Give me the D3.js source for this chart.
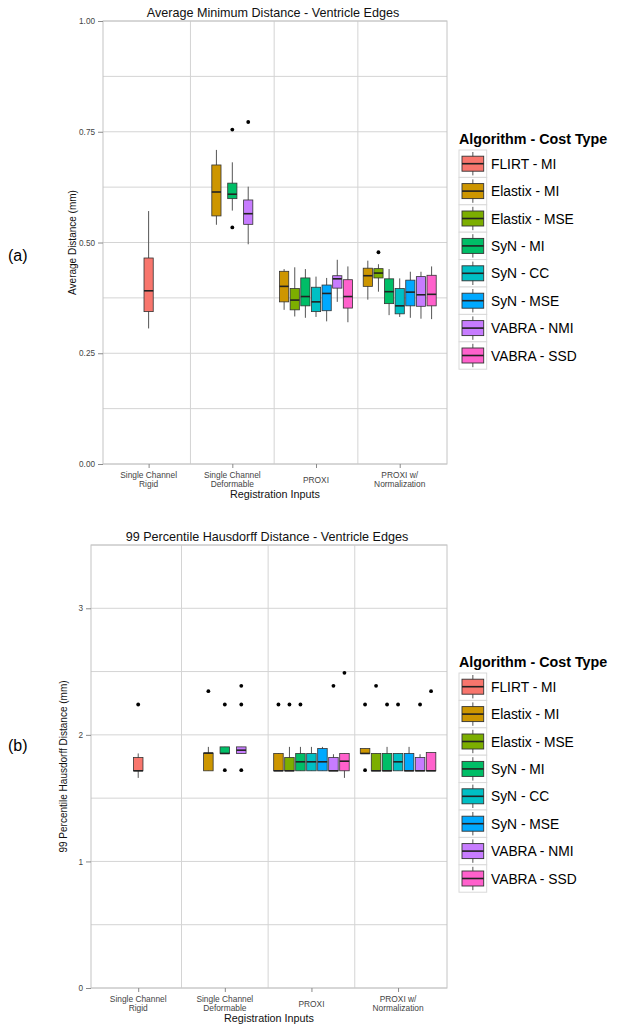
<!DOCTYPE html>
<html>
<head>
<meta charset="utf-8">
<script src="https://cdn.jsdelivr.net/npm/d3@7"></script>
<style>
  body { margin: 0; background: #fff; }
  text { font-family: "Liberation Sans", Arial, sans-serif; }
</style>
</head>
<body>
<svg id="chart" width="623" height="1033"></svg>
<script>
// Categories on the x axis (label lines)
const categories = [
    ["Single Channel", "Rigid"],
    ["Single Channel", "Deformable"],
    ["PROXI"],
    ["PROXI w/", "Normalization"]
];

// Algorithm - cost type groups and their colours
const algorithms = ["FLIRT - MI", "Elastix - MI", "Elastix - MSE", "SyN - MI",
    "SyN - CC", "SyN - MSE", "VABRA - NMI", "VABRA - SSD"];
const algoColors = ["#F8766D", "#CD9600", "#7CAE00", "#00BE67",
    "#00BFC4", "#00A9FF", "#C77CFF", "#FF61CC"];

// Average minimum distance: [category, algorithm, low, q1, median, q3, high]
const avgStats = [
    [0, 0, 0.306, 0.344, 0.391, 0.465, 0.571],
    [1, 1, 0.540, 0.560, 0.614, 0.675, 0.709],
    [1, 3, 0.572, 0.599, 0.609, 0.634, 0.681],
    [1, 6, 0.496, 0.541, 0.565, 0.596, 0.626],
    [2, 1, 0.348, 0.366, 0.401, 0.435, 0.440],
    [2, 2, 0.333, 0.348, 0.370, 0.396, 0.444],
    [2, 3, 0.330, 0.357, 0.378, 0.420, 0.440],
    [2, 4, 0.332, 0.344, 0.366, 0.399, 0.423],
    [2, 5, 0.322, 0.346, 0.385, 0.404, 0.420],
    [2, 6, 0.366, 0.397, 0.418, 0.425, 0.461],
    [2, 7, 0.320, 0.352, 0.378, 0.416, 0.446],
    [3, 1, 0.371, 0.401, 0.425, 0.442, 0.459],
    [3, 2, 0.389, 0.420, 0.431, 0.441, 0.451],
    [3, 3, 0.336, 0.362, 0.389, 0.418, 0.440],
    [3, 4, 0.332, 0.339, 0.357, 0.396, 0.419],
    [3, 5, 0.330, 0.357, 0.388, 0.415, 0.434],
    [3, 6, 0.328, 0.356, 0.382, 0.423, 0.434],
    [3, 7, 0.327, 0.357, 0.383, 0.426, 0.446]
];
// [category, algorithm, value]
const avgOutliers = [
    [1, 3, 0.755], [1, 3, 0.534], [1, 6, 0.772], [3, 2, 0.478]
];

// 99 percentile Hausdorff distance: [category, algorithm, low, q1, median, q3, high]
const hausStats = [
    [0, 0, 1.660, 1.716, 1.716, 1.821, 1.853],
    [1, 1, 1.716, 1.716, 1.856, 1.856, 1.905],
    [1, 3, 1.853, 1.853, 1.853, 1.905, 1.905],
    [1, 6, 1.853, 1.853, 1.879, 1.905, 1.905],
    [2, 1, 1.716, 1.716, 1.716, 1.853, 1.853],
    [2, 2, 1.716, 1.716, 1.716, 1.821, 1.905],
    [2, 3, 1.716, 1.716, 1.787, 1.853, 1.905],
    [2, 4, 1.716, 1.716, 1.787, 1.853, 1.905],
    [2, 5, 1.716, 1.716, 1.787, 1.892, 1.905],
    [2, 6, 1.716, 1.716, 1.716, 1.821, 1.847],
    [2, 7, 1.660, 1.716, 1.792, 1.853, 1.853],
    [3, 1, 1.853, 1.853, 1.853, 1.892, 1.892],
    [3, 2, 1.716, 1.716, 1.716, 1.853, 1.853],
    [3, 3, 1.716, 1.716, 1.716, 1.853, 1.905],
    [3, 4, 1.716, 1.716, 1.787, 1.853, 1.853],
    [3, 5, 1.716, 1.716, 1.716, 1.853, 1.905],
    [3, 6, 1.716, 1.716, 1.716, 1.821, 1.847],
    [3, 7, 1.716, 1.716, 1.716, 1.860, 1.860]
];
const hausOutliers = [
    [0, 0, 2.240],
    [1, 1, 2.345], [1, 3, 2.240], [1, 3, 1.721], [1, 6, 2.387], [1, 6, 2.240], [1, 6, 1.721],
    [2, 1, 2.240], [2, 2, 2.240], [2, 3, 2.240], [2, 6, 2.387], [2, 7, 2.490],
    [3, 1, 2.240], [3, 1, 1.721], [3, 2, 2.387], [3, 3, 2.240], [3, 4, 2.240],
    [3, 6, 2.240], [3, 7, 2.345]
];

const avgTicks = [0, 0.25, 0.5, 0.75, 1];
const avgMinor = [0.125, 0.375, 0.625, 0.875];
const hausTicks = [0, 1, 2, 3];
const hausMinor = [0.5, 1.5, 2.5, 3.5];

const svg = d3.select("#chart");
svg.append("rect").attr("width", 623).attr("height", 1033).attr("fill", "#fff");

function drawPanel(opts) {
    const { left, right, top, bottom } = opts;
    const g = svg.append("g");

    const x = d3.scaleLinear().domain([0.455, 4.565]).range([left, right]);
    const y = d3.scaleLinear().domain(opts.yDomain).range([bottom, top]);

    // grid
    g.selectAll(".hgrid").data(opts.ticks.concat(opts.minor)).enter().append("line")
        .attr("x1", left).attr("x2", right)
        .attr("y1", d => y(d)).attr("y2", d => y(d))
        .attr("stroke", "#d4d4d4").attr("stroke-width", 1);
    g.selectAll(".vgrid").data([1.5, 2.5, 3.5]).enter().append("line")
        .attr("x1", d => x(d)).attr("x2", d => x(d))
        .attr("y1", top).attr("y2", bottom)
        .attr("stroke", "#d4d4d4").attr("stroke-width", 1);
    g.append("rect")
        .attr("x", left).attr("y", top)
        .attr("width", right - left).attr("height", bottom - top)
        .attr("fill", "none").attr("stroke", "#c4c4c4");

    // y axis
    const yAxis = g.append("g").attr("transform", `translate(${left},0)`)
        .call(d3.axisLeft(y).tickValues(opts.ticks).tickFormat(opts.fmt).tickSize(5).tickPadding(3));
    yAxis.select(".domain").remove();
    yAxis.selectAll("line").attr("stroke", "#8a8a8a");
    yAxis.selectAll("text").attr("font-size", 8.2).attr("fill", "#444")
        .style("font-family", "Liberation Sans, Arial, sans-serif");

    // x axis ticks + labels
    const xAxis = g.append("g").attr("transform", `translate(0,${bottom})`)
        .call(d3.axisBottom(x).tickValues([1, 2, 3, 4]).tickSize(4).tickFormat(""));
    xAxis.select(".domain").remove();
    xAxis.selectAll("line").attr("stroke", "#8a8a8a");
    categories.forEach((lines, i) => {
        const t = g.append("text")
            .attr("x", x(i + 1))
            .attr("text-anchor", "middle")
            .attr("font-size", 8.4).attr("fill", "#444");
        const y0 = lines.length === 1 ? bottom + 18.5 : bottom + 13.8;
        lines.forEach((ln, j) => {
            t.append("tspan").attr("x", x(i + 1)).attr("y", y0 + j * 9.3).text(ln);
        });
    });

    // titles
    g.append("text").attr("x", (left + right) / 2 - 2).attr("y", top - 4)
        .attr("text-anchor", "middle").attr("font-size", 12.6).attr("fill", "#111")
        .text(opts.title);
    g.append("text").attr("x", (left + right) / 2).attr("y", bottom + 34)
        .attr("text-anchor", "middle").attr("font-size", 10.8).attr("fill", "#111")
        .text("Registration Inputs");
    g.append("text")
        .attr("transform", `translate(${opts.yLabelX},${(top + bottom) / 2}) rotate(-90)`)
        .attr("text-anchor", "middle").attr("font-size", 10).attr("fill", "#111")
        .text(opts.yLabel);

    // dodge positions per category
    const boxW = 0.11;
    function xPos(cat, alg) {
        const present = opts.stats.filter(d => d[0] === cat).map(d => d[1]);
        const k = present.length;
        const slot = k > 3 ? 0.127 : 0.19;
        const band = d3.scaleBand().domain(present)
            .range([cat + 1 - k * slot / 2, cat + 1 + k * slot / 2]);
        return band(alg) + band.bandwidth() / 2;
    }

    const boxes = g.selectAll(".box").data(opts.stats).enter().append("g");
    boxes.append("line")
        .attr("x1", d => x(xPos(d[0], d[1]))).attr("x2", d => x(xPos(d[0], d[1])))
        .attr("y1", d => y(d[2])).attr("y2", d => y(d[6]))
        .attr("stroke", "#555").attr("stroke-width", 1);
    boxes.append("rect")
        .attr("x", d => x(xPos(d[0], d[1]) - boxW / 2))
        .attr("width", d => x(boxW) - x(0))
        .attr("y", d => y(d[5]))
        .attr("height", d => Math.max(0.5, y(d[3]) - y(d[5])))
        .attr("fill", d => algoColors[d[1]])
        .attr("stroke", "#333").attr("stroke-width", 0.8);
    boxes.append("line")
        .attr("x1", d => x(xPos(d[0], d[1]) - boxW / 2))
        .attr("x2", d => x(xPos(d[0], d[1]) + boxW / 2))
        .attr("y1", d => y(d[4])).attr("y2", d => y(d[4]))
        .attr("stroke", "#222").attr("stroke-width", 1.6);

    g.selectAll(".out").data(opts.outliers).enter().append("circle")
        .attr("cx", d => x(xPos(d[0], d[1])))
        .attr("cy", d => y(d[2]))
        .attr("r", 1.9).attr("fill", "#000");

    // legend
    const lg = g.append("g").attr("transform", `translate(459,${opts.legendTop})`);
    lg.append("text").attr("x", 0).attr("y", 0)
        .attr("font-size", 14.3).attr("font-weight", "bold").attr("fill", "#000")
        .text("Algorithm - Cost Type");
    const keyH = 27.4;
    const items = lg.selectAll(".item").data(algorithms).enter().append("g")
        .attr("transform", (d, i) => `translate(0,${6 + i * keyH})`);
    items.append("rect").attr("x", 0).attr("y", 0).attr("width", 27.7).attr("height", keyH)
        .attr("fill", "#fff").attr("stroke", "#d9d9d9");
    items.append("line").attr("x1", 13.85).attr("x2", 13.85).attr("y1", 2).attr("y2", keyH - 2)
        .attr("stroke", "#555");
    items.append("rect").attr("x", 3).attr("y", 6.2).attr("width", 21.7).attr("height", 15)
        .attr("fill", (d, i) => algoColors[i]).attr("stroke", "#333").attr("stroke-width", 0.9);
    items.append("line").attr("x1", 3).attr("x2", 24.7).attr("y1", 13.7).attr("y2", 13.7)
        .attr("stroke", "#222").attr("stroke-width", 1.6);
    items.append("text").attr("x", 32).attr("y", 18.8)
        .attr("font-size", 13.8).attr("fill", "#000").text(d => d);

    // panel tag
    svg.append("text").attr("x", 8).attr("y", opts.tagY)
        .attr("font-size", 16).attr("fill", "#000").text(opts.tag);
}

drawPanel({
    left: 103, right: 447, top: 21, bottom: 464,
    yDomain: [0, 1], ticks: avgTicks, minor: avgMinor, fmt: d3.format(".2f"),
    title: "Average Minimum Distance - Ventricle Edges",
    yLabel: "Average Distance (mm)", yLabelX: 76,
    stats: avgStats, outliers: avgOutliers,
    legendTop: 144, tag: "(a)", tagY: 261
});

drawPanel({
    left: 91, right: 447, top: 545, bottom: 988,
    yDomain: [0, 3.5], ticks: hausTicks, minor: hausMinor, fmt: d3.format("d"),
    title: "99 Percentile Hausdorff Distance - Ventricle Edges",
    yLabel: "99 Percentile Hausdorff Distance (mm)", yLabelX: 67,
    stats: hausStats, outliers: hausOutliers,
    legendTop: 667, tag: "(b)", tagY: 751
});
</script>
</body>
</html>
